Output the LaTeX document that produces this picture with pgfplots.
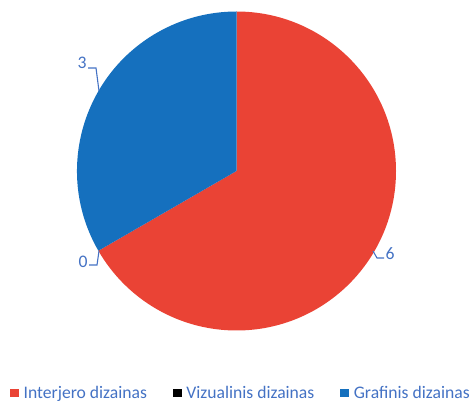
\documentclass[border=0pt]{standalone}
\usepackage{pgfplots}
\pgfplotsset{compat=1.18}
\usepackage{pgfplotstable}
\usepackage{fontspec}
\setmainfont{Carlito}

\definecolor{cRed}{HTML}{EA4335}
\definecolor{cBlack}{HTML}{000000}
\definecolor{cBlue}{HTML}{1570BE}
\definecolor{txtBlue}{HTML}{4472C4}

% category, value
\pgfplotstableread[col sep=comma]{
name,value
Interjero dizainas,6
Vizualinis dizainas,0
Grafinis dizainas,3
}\piedata

\begin{document}
\begin{tikzpicture}
\begin{axis}[
  scale only axis, width=475bp, height=402bp,
  xmin=0, xmax=475, ymin=0, ymax=402,
  hide axis, clip=false,
  legend columns=3,
  legend style={draw=none, fill=none, at={(axis cs:10,9)}, anchor=west,
    font=\fontsize{17.7}{19}\selectfont, text=txtBlue,
    nodes={inner xsep=5bp, inner ysep=0pt},
    /tikz/column 2/.style={column sep=21bp},
    /tikz/column 4/.style={column sep=21bp},
    inner sep=0pt},
  legend image code/.code={\fill[#1] (0bp,-3.6bp) rectangle (8bp,3.6bp);},
]
\path (axis cs:0,0) rectangle (axis cs:475,402);
\addlegendimage{cRed}
\addlegendentry{Interjero dizainas}
\addlegendimage{cBlack}
\addlegendentry{Vizualinis dizainas}
\addlegendimage{cBlue}
\addlegendentry{Grafinis dizainas}

\def\cx{236.5}\def\cy{231}\def\R{159.5}
\def\total{9}
\def\start{90}
\foreach \i/\c in {0/cRed,1/cBlack,2/cBlue}{
  \pgfplotstablegetelem{\i}{value}\of\piedata
  \pgfmathsetmacro\sweep{360*\pgfplotsretval/\total}
  \pgfmathsetmacro\stop{\start-\sweep}
  \ifdim\sweep pt>0pt
    \edef\temp{\noexpand\fill[\c] (axis cs:\cx,\cy) -- ++(\start:\R bp)
      arc[start angle=\start, end angle=\stop, radius=\R bp] -- cycle;}
    \temp
  \fi
  \xdef\start{\stop}
}
% data labels with leader lines (value 6 / 0 / 3)
\pgfplotstablegetelem{0}{value}\of\piedata\let\vA\pgfplotsretval
\pgfplotstablegetelem{1}{value}\of\piedata\let\vB\pgfplotsretval
\pgfplotstablegetelem{2}{value}\of\piedata\let\vC\pgfplotsretval
\begin{scope}[txtBlue, line width=1.1pt, font=\fontsize{17.7}{19}\selectfont]
\draw (axis cs:373,151) -- (axis cs:377,144) -- (axis cs:384,144);
\node[anchor=west, inner sep=1pt] at (axis cs:384,148) {\vA};
\draw (axis cs:99,151) -- (axis cs:97,137) -- (axis cs:89,137);
\node[anchor=east, inner sep=1pt] at (axis cs:89,140) {\vB};
\draw (axis cs:99,311) -- (axis cs:96,334) -- (axis cs:88,334);
\node[anchor=east, inner sep=1pt] at (axis cs:88,339) {\vC};
\end{scope}
\end{axis}
\end{tikzpicture}
\end{document}
